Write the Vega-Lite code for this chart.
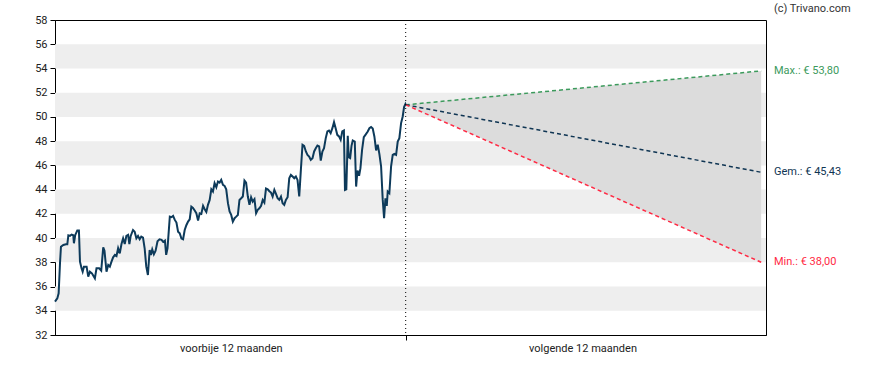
{
  "$schema": "https://vega.github.io/schema/vega-lite/v6.json",
  "width": 711,
  "height": 315,
  "autosize": "none",
  "padding": {"left": 55, "top": 20, "right": 122, "bottom": 35},
  "background": "white",
  "config": {
    "view": {"stroke": "#000000", "strokeWidth": 1},
    "font": "Roboto",
    "axis": {"labelFont": "Roboto", "labelFontSize": 11, "labelColor": "#222222", "domainColor": "#000000", "tickColor": "#000000", "tickSize": 5, "grid": false, "title": null, "labelOverlap": false},
    "axisY": {"labelOverlap": false, "tickCount": 13, "labelPadding": 3}
  },
  "datasets": {
    "bands": [
      {"v": 34, "v2": 36}, {"v": 38, "v2": 40}, {"v": 42, "v2": 44},
      {"v": 46, "v2": 48}, {"v": 50, "v2": 52}, {"v": 54, "v2": 56}
    ],
    "range": [
      {"d": 0, "lo": 51.0, "hi": 51.0},
      {"d": 370, "lo": 38.0, "hi": 53.8}
    ],
    "forecast": [
      {"s": "max", "d": 0, "v": 51.0}, {"s": "max", "d": 370, "v": 53.8},
      {"s": "gem", "d": 0, "v": 51.0}, {"s": "gem", "d": 370, "v": 45.43},
      {"s": "min", "d": 0, "v": 51.0}, {"s": "min", "d": 370, "v": 38.0}
    ],
    "labels": [
      {"s": "max", "v": 53.8, "label": "Max.: € 53,80"},
      {"s": "gem", "v": 45.43, "label": "Gem.: € 45,43"},
      {"s": "min", "v": 38.0, "label": "Min.: € 38,00"}
    ],
    "past": [
      {"d": -365.0, "v": 34.75}, {"d": -362.6, "v": 35.02}, {"d": -361.2, "v": 35.44}, {"d": -359.8, "v": 37.92},
      {"d": -358.8, "v": 39.29}, {"d": -356.3, "v": 39.43}, {"d": -353.6, "v": 39.49}, {"d": -352.2, "v": 39.49},
      {"d": -351.1, "v": 40.23}, {"d": -349.4, "v": 40.18}, {"d": -347.7, "v": 40.29}, {"d": -346.0, "v": 40.23},
      {"d": -345.3, "v": 39.57}, {"d": -343.9, "v": 40.26}, {"d": -341.8, "v": 40.62}, {"d": -340.1, "v": 40.62},
      {"d": -339.0, "v": 38.05}, {"d": -337.3, "v": 37.5}, {"d": -336.2, "v": 37.23}, {"d": -334.9, "v": 37.64},
      {"d": -332.1, "v": 37.64}, {"d": -330.4, "v": 36.82}, {"d": -328.7, "v": 37.23}, {"d": -326.6, "v": 37.09},
      {"d": -323.5, "v": 36.68}, {"d": -321.8, "v": 37.5}, {"d": -319.0, "v": 37.5}, {"d": -316.9, "v": 37.31},
      {"d": -314.8, "v": 39.24}, {"d": -313.5, "v": 38.96}, {"d": -311.4, "v": 37.23}, {"d": -309.6, "v": 37.78},
      {"d": -307.9, "v": 37.64}, {"d": -306.2, "v": 38.05}, {"d": -304.5, "v": 38.41}, {"d": -302.7, "v": 38.61},
      {"d": -301.0, "v": 38.52}, {"d": -299.3, "v": 39.16}, {"d": -297.6, "v": 38.74}, {"d": -295.8, "v": 39.51},
      {"d": -294.1, "v": 39.98}, {"d": -292.4, "v": 39.51}, {"d": -290.7, "v": 40.18}, {"d": -288.9, "v": 40.26},
      {"d": -287.6, "v": 39.51}, {"d": -286.2, "v": 40.18}, {"d": -283.8, "v": 40.67}, {"d": -282.1, "v": 40.53},
      {"d": -280.3, "v": 39.98}, {"d": -278.6, "v": 40.18}, {"d": -276.9, "v": 39.9}, {"d": -275.2, "v": 40.12},
      {"d": -273.4, "v": 40.04}, {"d": -271.7, "v": 39.16}, {"d": -270.0, "v": 37.64}, {"d": -268.3, "v": 36.95},
      {"d": -266.5, "v": 39.02}, {"d": -265.2, "v": 38.61}, {"d": -263.8, "v": 39.07}, {"d": -262.1, "v": 38.66},
      {"d": -260.3, "v": 38.96}, {"d": -258.3, "v": 39.73}, {"d": -256.2, "v": 39.9}, {"d": -254.1, "v": 39.85},
      {"d": -252.4, "v": 39.68}, {"d": -250.6, "v": 39.79}, {"d": -249.3, "v": 38.61}, {"d": -247.9, "v": 39.16},
      {"d": -245.5, "v": 41.77}, {"d": -243.8, "v": 41.72}, {"d": -242.1, "v": 41.83}, {"d": -240.3, "v": 41.5},
      {"d": -238.6, "v": 41.28}, {"d": -236.9, "v": 40.53}, {"d": -235.2, "v": 40.4}, {"d": -233.4, "v": 39.96},
      {"d": -231.7, "v": 39.9}, {"d": -230.0, "v": 40.67}, {"d": -228.3, "v": 41.06}, {"d": -226.5, "v": 41.36},
      {"d": -224.8, "v": 41.55}, {"d": -223.1, "v": 42.6}, {"d": -221.4, "v": 42.49}, {"d": -219.6, "v": 42.27},
      {"d": -217.9, "v": 42.05}, {"d": -216.1, "v": 41.44}, {"d": -214.4, "v": 42.05}, {"d": -212.7, "v": 42.0},
      {"d": -210.9, "v": 42.66}, {"d": -209.2, "v": 42.38}, {"d": -207.5, "v": 42.16}, {"d": -205.8, "v": 42.74},
      {"d": -204.0, "v": 43.15}, {"d": -202.3, "v": 44.03}, {"d": -200.6, "v": 43.84}, {"d": -198.9, "v": 44.53},
      {"d": -197.1, "v": 44.2}, {"d": -195.4, "v": 44.67}, {"d": -193.7, "v": 44.58}, {"d": -192.0, "v": 44.8},
      {"d": -190.2, "v": 44.39}, {"d": -188.5, "v": 44.31}, {"d": -186.8, "v": 44.03}, {"d": -185.0, "v": 42.88},
      {"d": -183.3, "v": 42.19}, {"d": -181.6, "v": 41.91}, {"d": -179.9, "v": 41.36}, {"d": -178.1, "v": 41.64},
      {"d": -176.4, "v": 41.77}, {"d": -174.7, "v": 41.91}, {"d": -173.0, "v": 43.15}, {"d": -171.2, "v": 43.29},
      {"d": -169.5, "v": 43.43}, {"d": -167.8, "v": 44.75}, {"d": -166.1, "v": 44.58}, {"d": -164.3, "v": 43.43},
      {"d": -162.6, "v": 42.74}, {"d": -160.9, "v": 43.37}, {"d": -159.2, "v": 43.01}, {"d": -157.4, "v": 43.21},
      {"d": -155.7, "v": 42.05}, {"d": -154.0, "v": 42.33}, {"d": -152.3, "v": 42.46}, {"d": -150.5, "v": 42.66},
      {"d": -148.8, "v": 43.15}, {"d": -147.1, "v": 42.93}, {"d": -145.4, "v": 44.09}, {"d": -143.6, "v": 44.03},
      {"d": -141.9, "v": 43.87}, {"d": -140.2, "v": 43.76}, {"d": -138.5, "v": 43.43}, {"d": -136.7, "v": 43.98},
      {"d": -135.0, "v": 43.65}, {"d": -133.3, "v": 43.29}, {"d": -131.6, "v": 43.15}, {"d": -129.8, "v": 43.43},
      {"d": -128.1, "v": 42.88}, {"d": -126.4, "v": 42.74}, {"d": -124.7, "v": 43.15}, {"d": -122.9, "v": 43.37},
      {"d": -121.2, "v": 44.94}, {"d": -119.5, "v": 45.22}, {"d": -117.7, "v": 45.08}, {"d": -116.0, "v": 44.94},
      {"d": -114.3, "v": 45.08}, {"d": -112.6, "v": 44.8}, {"d": -110.8, "v": 43.43}, {"d": -109.1, "v": 45.63},
      {"d": -107.4, "v": 47.7}, {"d": -105.7, "v": 47.61}, {"d": -103.9, "v": 47.15}, {"d": -102.2, "v": 46.87},
      {"d": -100.5, "v": 46.73}, {"d": -98.8, "v": 46.46}, {"d": -97.0, "v": 46.6}, {"d": -95.3, "v": 47.15},
      {"d": -93.6, "v": 47.42}, {"d": -91.9, "v": 47.64}, {"d": -90.1, "v": 47.56}, {"d": -88.4, "v": 46.4},
      {"d": -86.7, "v": 47.15}, {"d": -85.0, "v": 47.42}, {"d": -83.2, "v": 48.25}, {"d": -81.5, "v": 48.8},
      {"d": -79.8, "v": 48.88}, {"d": -78.1, "v": 48.66}, {"d": -76.3, "v": 49.07}, {"d": -74.6, "v": 49.57},
      {"d": -72.9, "v": 49.07}, {"d": -71.2, "v": 48.52}, {"d": -69.4, "v": 48.39}, {"d": -67.7, "v": 48.11},
      {"d": -66.0, "v": 48.8}, {"d": -64.3, "v": 48.88}, {"d": -63.2, "v": 43.98}, {"d": -61.8, "v": 44.03},
      {"d": -60.3, "v": 48.44}, {"d": -59.3, "v": 46.68}, {"d": -57.8, "v": 46.6}, {"d": -56.4, "v": 47.61},
      {"d": -55.1, "v": 48.06}, {"d": -53.0, "v": 47.97}, {"d": -51.6, "v": 44.25}, {"d": -50.2, "v": 45.58},
      {"d": -48.5, "v": 45.14}, {"d": -47.1, "v": 45.77}, {"d": -45.4, "v": 47.28}, {"d": -43.6, "v": 48.33},
      {"d": -41.9, "v": 48.52}, {"d": -39.5, "v": 48.8}, {"d": -37.8, "v": 49.07}, {"d": -36.0, "v": 49.16},
      {"d": -34.3, "v": 49.05}, {"d": -32.6, "v": 48.39}, {"d": -30.8, "v": 47.23}, {"d": -29.1, "v": 47.7},
      {"d": -27.4, "v": 46.95}, {"d": -25.6, "v": 45.91}, {"d": -23.9, "v": 43.15}, {"d": -22.5, "v": 41.64},
      {"d": -21.1, "v": 43.29}, {"d": -19.7, "v": 42.66}, {"d": -18.7, "v": 43.84}, {"d": -17.0, "v": 43.7},
      {"d": -15.2, "v": 45.91}, {"d": -13.5, "v": 46.87}, {"d": -11.8, "v": 46.95}, {"d": -10.0, "v": 46.87},
      {"d": -8.3, "v": 47.97}, {"d": -6.6, "v": 48.25}, {"d": -4.8, "v": 49.49}, {"d": -3.1, "v": 50.04},
      {"d": -1.7, "v": 50.81}, {"d": -0.3, "v": 51.06}, {"d": 0, "v": 51.0}
    ]
  },
  "layer": [
    {
      "data": {"name": "bands"},
      "mark": {"type": "rect", "color": "#eeeeee"},
      "encoding": {
        "y": {"field": "v", "type": "quantitative", "scale": {"domain": [32, 58], "nice": false, "zero": false},
              "axis": {"tickCount": 13, "labelOverlap": false, "labelBound": false, "labelFlush": false}},
        "y2": {"field": "v2"}
      }
    },
    {
      "data": {"name": "range"},
      "mark": {"type": "area", "color": "#dcdcdc", "opacity": 1},
      "encoding": {
        "x": {"field": "d", "type": "quantitative", "scale": {"domain": [-365, 375], "nice": false, "zero": false},
              "axis": {"values": [-182, 0, 184], "labelExpr": "datum.value < -100 ? 'voorbije 12 maanden' : (datum.value > 100 ? 'volgende 12 maanden' : '')",
                       "tickOpacity": {"condition": {"test": "datum.value == 0", "value": 1}, "value": 0}, "labelPadding": 2, "labelOverlap": false}},
        "y": {"field": "lo", "type": "quantitative", "scale": {"domain": [32, 58], "nice": false, "zero": false}},
        "y2": {"field": "hi"}
      }
    },
    {
      "data": {"name": "forecast"},
      "mark": {"type": "line", "strokeDash": [4, 3], "strokeWidth": 1.5},
      "encoding": {
        "x": {"field": "d", "type": "quantitative", "scale": {"domain": [-365, 375], "nice": false, "zero": false}},
        "y": {"field": "v", "type": "quantitative", "scale": {"domain": [32, 58], "nice": false, "zero": false}},
        "color": {"field": "s", "type": "nominal", "scale": {"domain": ["max", "gem", "min"], "range": ["#3c9a5c", "#0f3553", "#ff2a44"]}, "legend": null}
      }
    },
    {
      "data": {"name": "past"},
      "mark": {"type": "line", "color": "#0d3a5a", "strokeWidth": 2},
      "encoding": {
        "x": {"field": "d", "type": "quantitative", "scale": {"domain": [-365, 375], "nice": false, "zero": false}},
        "y": {"field": "v", "type": "quantitative", "scale": {"domain": [32, 58], "nice": false, "zero": false}}
      }
    },
    {
      "data": {"values": [{}]},
      "mark": {"type": "rule", "color": "#000000", "strokeDash": [1, 3], "strokeWidth": 1},
      "encoding": {"x": {"datum": 0}}
    },
    {
      "data": {"name": "labels"},
      "mark": {"type": "text", "align": "left", "baseline": "middle", "dx": 8, "fontSize": 11, "font": "Roboto"},
      "encoding": {
        "x": {"datum": 375},
        "y": {"field": "v", "type": "quantitative"},
        "text": {"field": "label"},
        "color": {"field": "s", "type": "nominal", "scale": {"domain": ["max", "gem", "min"], "range": ["#3c9a5c", "#0f3553", "#ff2a44"]}, "legend": null}
      }
    },
    {
      "data": {"values": [{"label": "(c) Trivano.com"}]},
      "mark": {"type": "text", "align": "left", "baseline": "middle", "dx": 8, "dy": -11, "fontSize": 11, "font": "Roboto", "color": "#333333"},
      "encoding": {
        "x": {"datum": 375},
        "y": {"datum": 58},
        "text": {"field": "label"}
      }
    }
  ]
}
